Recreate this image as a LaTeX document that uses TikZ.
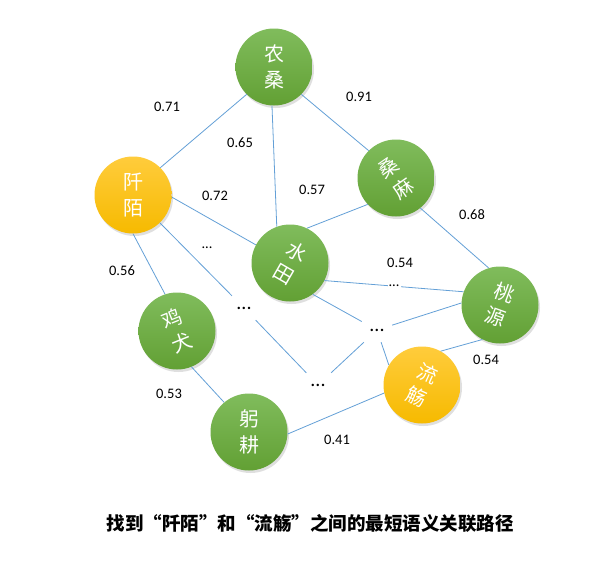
\documentclass[tikz,border=0pt]{standalone}
\usepackage{fontspec}
\setmainfont{Carlito}
\newfontfamily\cjk{Noto Sans CJK SC}
\usetikzlibrary{shadows}
\definecolor{gtop}{RGB}{128,188,92}
\definecolor{gbot}{RGB}{98,160,52}
\definecolor{ytop}{RGB}{255,204,60}
\definecolor{ybot}{RGB}{246,186,0}
\definecolor{edgeblue}{RGB}{100,160,215}
\tikzset{
  gnode/.style={circle, minimum size=77pt, inner sep=0pt, top color=gtop, bottom color=gbot,
    drop shadow={opacity=0.25, shadow xshift=1.5pt, shadow yshift=-2.5pt}},
  ynode/.style={gnode, top color=ytop, bottom color=ybot},
  ctext/.style={text=white, font=\cjk\fontsize{20}{26}\selectfont, align=center, inner sep=0pt},
  wlabel/.style={font=\fontsize{14.5}{16}\selectfont, inner sep=1pt},
  bigdots/.style={font=\fontsize{20}{22}\selectfont, fill=white, inner sep=0pt, minimum width=30pt, minimum height=24pt},
  smalldots/.style={font=\fontsize{14.5}{16}\selectfont, fill=white, inner sep=1pt},
  link/.style={draw=edgeblue, line width=0.8pt}
}
\begin{document}
\begin{tikzpicture}[x=1pt,y=-1pt]
\fill[white] (0,0) rectangle (605,565);
\useasboundingbox (0,0) rectangle (605,565);
% circles
\node[gnode] (N) at (274,67) {};
\node[gnode] (S) at (396,178) {};
\node[ynode] (Q) at (133,195) {};
\node[gnode] (W) at (290,263) {};
\node[gnode] (J) at (177,331) {};
\node[gnode] (G) at (249,432) {};
\node[gnode] (T) at (500,305) {};
\node[ynode] (L) at (422,385) {};
% circle texts
\node[ctext] (Nt) at (N) {农\\桑};
\node[ctext, rotate=35] (St) at (S) {桑\\麻};
\node[ctext] (Qt) at (Q) {阡\\陌};
\node[ctext, rotate=-30] (Wt) at (W) {水\\田};
\node[ctext, rotate=22] (Jt) at (J) {鸡\\犬};
\node[ctext] (Gt) at (G) {躬\\耕};
\node[ctext, rotate=-20] (Tt) at (T) {桃\\源};
\node[ctext, rotate=-24] (Lt) at (L) {流\\觞};
% dots nodes
\node[bigdots] (D1) at (244,308) {...};
\node[bigdots] (D2) at (318,385) {...};
\node[bigdots] (D3) at (377,330) {...};
% edges
\draw[link] (N.225) -- (Q.45);
\draw[link] (N.-45) -- (S.135);
\draw[link] (N.267) -- (W.110);
\draw[link] (S.223) -- (W.64);
\draw[link] (S.-51) -- (T.107);
\draw[link] (Q.-3) -- (W.152);
\draw[link] (Q.-90) -- (J.108);
\draw[link] (Q.-46) -- (D1);
\draw[link] (D1) -- (D2);
\draw[link] (J.-68) -- (G.130);
\draw[link] (G.-3) -- (L.192);
\draw[link] (W.-27) -- node[smalldots, pos=0.5] (Dw) {...} (T.160);
\draw[link] (W.-54) -- (D3);
\draw[link] (D3) -- (T.177);
\draw[link] (D3) -- (L.149);
\draw[link] (D2) -- (D3);
\draw[link] (L.61) -- (T.243);
% weight labels
\node[wlabel] (l1) at (167,107) {0.71};
\node[wlabel] (l2) at (359,97) {0.91};
\node[wlabel] (l3) at (240,143) {0.65};
\node[wlabel] (l4) at (312,190) {0.57};
\node[wlabel] (l5) at (215,196) {0.72};
\node[wlabel] (l6) at (472,215) {0.68};
\node[wlabel] (l7) at (207,248) {...};
\node[wlabel] (l8) at (122,271) {0.56};
\node[wlabel] (l9) at (400,263) {0.54};
\node[wlabel] (l10) at (486,360) {0.54};
\node[wlabel] (l11) at (169,394) {0.53};
\node[wlabel] (l12) at (337,440) {0.41};
% caption
\node[font=\cjk\bfseries\fontsize{18.5}{20}\selectfont, inner sep=0pt] (cap) at (310,523) {找到“阡陌”和“流觞”之间的最短语义关联路径};
\end{tikzpicture}
\end{document}
